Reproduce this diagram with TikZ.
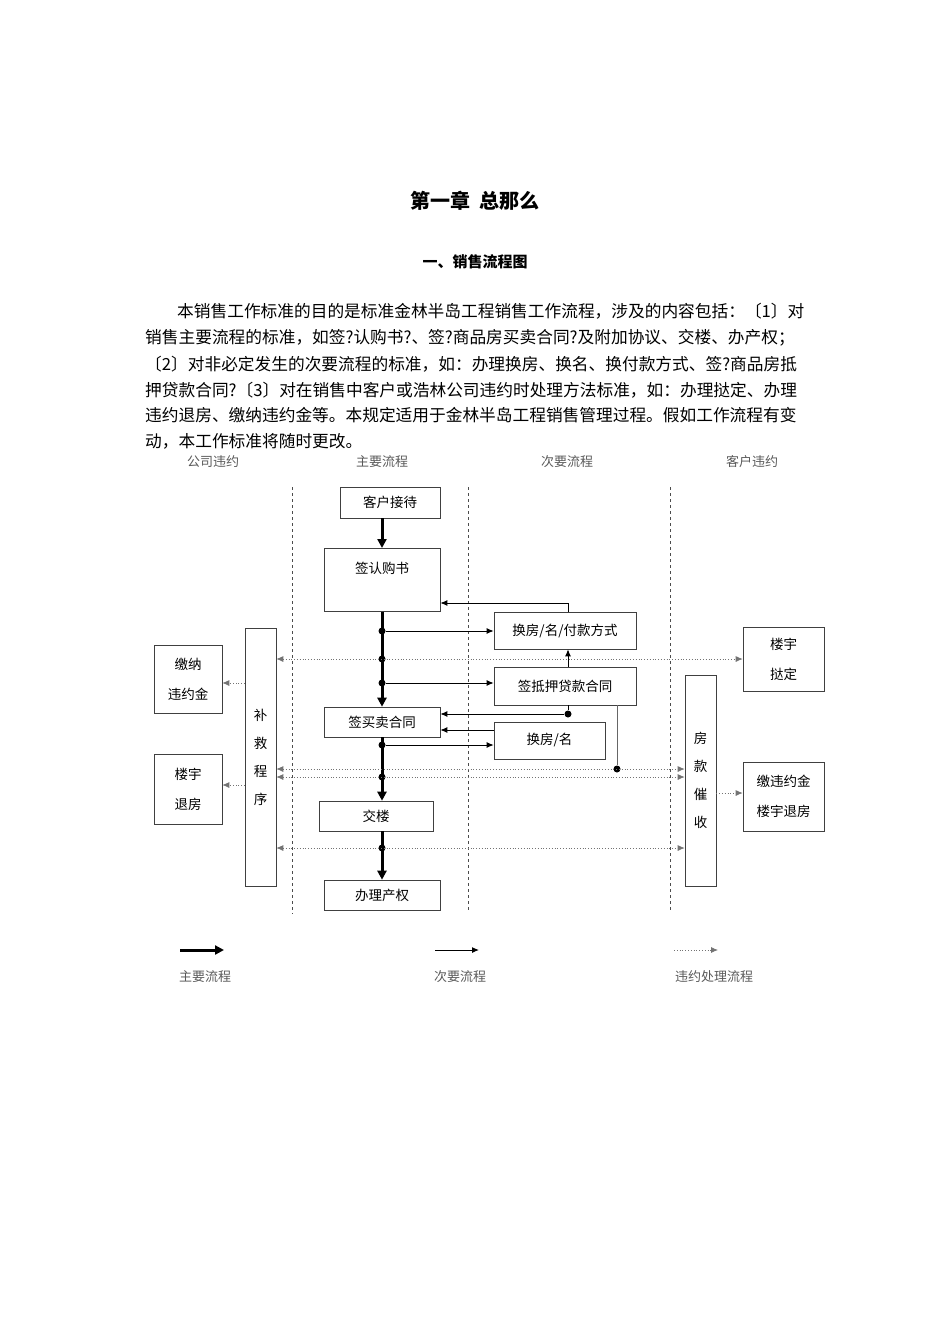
\documentclass[tikz,border=0pt]{standalone}
\usepackage{fontspec}
\setmainfont{Noto Sans CJK SC}
\usetikzlibrary{positioning,arrows.meta}
\tikzset{
  box/.style={draw=black!75, line width=0.6pt, font=\fontsize{13.5}{15}\selectfont, inner sep=0pt},
  mainflow/.style={line width=3pt, -{Triangle[length=9pt,width=9pt]}},
  subflow/.style={line width=1pt, -{Latex[length=7pt,width=6pt]}},
  badflow/.style={line width=0.8pt, black!55, dotted, {Latex[length=7pt,width=6pt]}-{Latex[length=7pt,width=6pt]}},
  badone/.style={line width=0.8pt, black!55, dotted, -{Latex[length=7pt,width=6pt]}},
  lane/.style={dash pattern=on 3pt off 3pt, line width=0.8pt, black!70},
  dot/.style={circle, fill=black, inner sep=0pt, minimum size=7pt},
  head/.style={font=\fontsize{13}{15}\selectfont, text=black!65},
  para/.style={anchor=west, font=\fontsize{16.7}{18}\selectfont, inner sep=0pt}
}
\begin{document}
\begin{tikzpicture}[x=1pt,y=-1pt]
\useasboundingbox (0,0) rectangle (950,1344);

% title
\node[font=\bfseries\fontsize{20}{22}\selectfont] (title) at (475,201) {第一章\ \ 总那么};
\node[font=\bfseries\fontsize{15}{17}\selectfont] (sub) at (475,262) {一、销售流程图};

% paragraph
\node[para] (l1) at (177,311) {本销售工作标准的目的是标准金林半岛工程销售工作流程，涉及的内容包括：〔1〕对};
\node[para] (l2) at (145,338) {销售主要流程的标准，如签?认购书?、签?商品房买卖合同?及附加协议、交楼、办产权；};
\node[para] (l3) at (145,364) {〔2〕对非必定发生的次要流程的标准，如：办理换房、换名、换付款方式、签?商品房抵};
\node[para] (l4) at (145,390) {押贷款合同?〔3〕对在销售中客户或浩林公司违约时处理方法标准，如：办理挞定、办理};
\node[para] (l5) at (145,415) {违约退房、缴纳违约金等。本规定适用于金林半岛工程销售管理过程。假如工作流程有变};
\node[para] (l6) at (145,441) {动，本工作标准将随时更改。};

% lanes
\node[head] (h1) at (213,462) {公司违约};
\node[head] (h2) at (382,462) {主要流程};
\node[head] (h3) at (567,462) {次要流程};
\node[head] (h4) at (752,462) {客户违约};
\draw[lane] (292,487) -- (292,914);
\draw[lane] (468,487) -- (468,912);
\draw[lane] (670,487) -- (670,912);

% boxes
\node[box, minimum width=100, minimum height=31] (reception) at (390,502.5) {客户接待};
\node[box, minimum width=116, minimum height=63, anchor=north] (subscribe) at (382,548) {};
\node[box, draw=none] at (382,568) {签认购书};
\node[box, minimum width=142, minimum height=37] (changepay) at (565,630.5) {换房/名/付款方式};
\node[box, minimum width=142, minimum height=38] (mortgage) at (565,686) {签抵押贷款合同};
\node[box, minimum width=116, minimum height=30] (contract) at (382,722) {签买卖合同};
\node[box, minimum width=111, minimum height=37] (changename) at (549.5,740.5) {换房/名};
\node[box, minimum width=114, minimum height=30] (handover) at (376,816) {交楼};
\node[box, minimum width=116, minimum height=30] (title2) at (382,895) {办理产权};
\node[box, minimum width=31, minimum height=258, align=center, font=\fontsize{13.5}{28}\selectfont] (remedy) at (260.5,757) {补\\救\\程\\序};
\node[box, minimum width=68, minimum height=68, align=center, font=\fontsize{13.5}{30}\selectfont] (penalty) at (188,679) {缴纳\\违约金};
\node[box, minimum width=68, minimum height=70, align=center, font=\fontsize{13.5}{30}\selectfont] (refund) at (188,789) {楼宇\\退房};
\node[box, minimum width=81, minimum height=64, align=center, font=\fontsize{13.5}{30}\selectfont] (forfeit) at (783.5,659) {楼宇\\挞定};
\node[box, minimum width=31, minimum height=211, align=center, font=\fontsize{13.5}{28}\selectfont] (collect) at (700.5,780.5) {房\\款\\催\\收};
\node[box, minimum width=81, minimum height=69, align=center, font=\fontsize{13.5}{30}\selectfont] (payback) at (783.5,796.5) {缴违约金\\楼宇退房};

% main flow
\draw[mainflow] (reception.south -| 382,0) -- (subscribe.north);
\draw[mainflow] (subscribe.south) -- (contract.north);
\draw[mainflow] (contract.south) -- (handover.north -| 382,0);
\draw[mainflow] (handover.south -| 382,0) -- (title2.north);

% minor flow
\node[dot] (d1) at (382,631) {};
\node[dot] (d2) at (382,683) {};
\node[dot] (d3) at (382,745) {};
\node[dot] (d4) at (568,714) {};
\draw[subflow] (d1) -- (changepay.west |- d1);
\draw[subflow] (d2) -- (mortgage.west |- d2);
\draw[subflow] (d3) -- (changename.west |- d3);
\draw[subflow] (changepay.north -| 568,0) |- (subscribe.east |- 0,603);
\draw[subflow] (mortgage.north -| 568,0) -- (changepay.south -| 568,0);
\draw (mortgage.south -| 568,0) -- (d4);
\draw[subflow] (d4) -- (contract.east |- d4);
\draw[subflow] (changename.west |- 0,730) -- (contract.east |- 0,730);

% default flow
\node[dot] (d5) at (382,659) {};
\node[dot] (d6) at (617,769) {};
\node[dot] (d7) at (382,777) {};
\node[dot] (d8) at (382,848) {};
\draw[badflow] (remedy.east |- d5) -- (forfeit.west |- d5);
\draw[black!60] (mortgage.south -| d6) -- (d6);
\draw[badflow] (remedy.east |- d6) -- (collect.west |- d6);
\draw[badflow] (remedy.east |- d7) -- (collect.west |- d7);
\draw[badflow] (remedy.east |- d8) -- (collect.west |- d8);
\draw[badone] (remedy.west |- 0,683) -- (penalty.east |- 0,683);
\draw[badone] (remedy.west |- 0,785) -- (refund.east |- 0,785);
\draw[badone] (collect.east |- 0,793) -- (payback.west |- 0,793);

% legend
\coordinate (k1) at (180,950); \coordinate (k2) at (224,950);
\coordinate (k3) at (435,950); \coordinate (k4) at (479,950);
\coordinate (k5) at (674,950); \coordinate (k6) at (718,950);
\draw[mainflow] (k1) -- (k2);
\draw[subflow] (k3) -- (k4);
\draw[badone] (k5) -- (k6);
\node[head] (t1) at (205,977) {主要流程};
\node[head] (t2) at (460,977) {次要流程};
\node[head] (t3) at (714,977) {违约处理流程};
\end{tikzpicture}
\end{document}
